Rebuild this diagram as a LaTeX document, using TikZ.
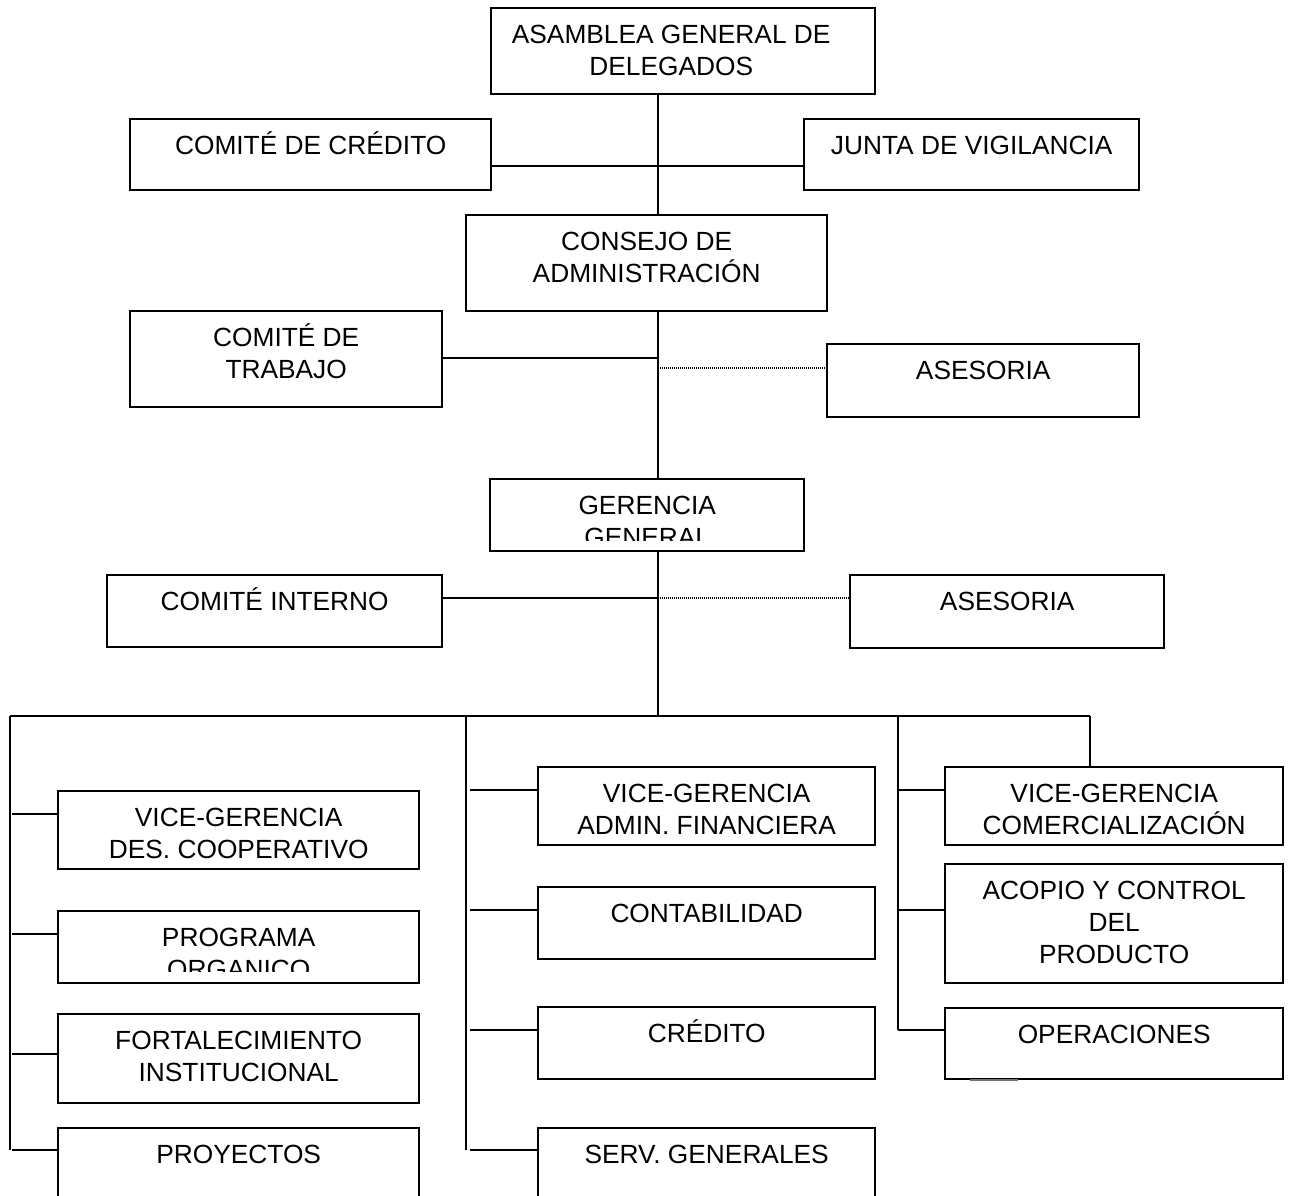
\documentclass[tikz,border=0pt]{standalone}
\usepackage{fontspec}
\setmainfont{Liberation Sans}
\begin{document}
\begin{tikzpicture}[x=1pt,y=-1pt,
  bx/.style={draw, line width=2.4pt, inner sep=0pt, fill=white},
  lbl/.style={inner sep=0pt, align=center, font=\fontsize{26.3}{32}\selectfont},
  conn/.style={line width=2.4pt},
  thinconn/.style={line width=1.8pt},
  dotconn/.style={line width=1.2pt, dash pattern=on 1pt off 1pt}]
\newcommand\orgbox[7][0]{%
  \node[bx, minimum width={#5-#3}, minimum height={#6-#4}, anchor=north west] (#2) at (#3,#4) {};
  \node[lbl, anchor=north] (#2t) at ([xshift=#1pt,yshift=-11.5pt]#2.north) {\rule{0pt}{25pt}#7};}
\newcommand\orgboxclip[7]{%
  \node[bx, minimum width={#4-#2}, minimum height={#5-#3}, anchor=north west] (#1) at (#2,#3) {};
  \begin{scope}
    \clip (#2,#3) rectangle (#4,#7);
    \node[lbl, anchor=north] (#1t) at ([yshift=-11.5pt]#1.north) {\rule{0pt}{25pt}#6};
  \end{scope}}
\useasboundingbox (0,0) rectangle (1289,1195);
\clip (0,0) rectangle (1289,1195);
\fill[white] (0,0) rectangle (1289,1195);

% helper coordinates
\coordinate (busL) at (10,716);
\coordinate (busR) at (1090,716);
\coordinate (midV) at (466,716);
\coordinate (rgtV) at (898,716);

% connectors first (boxes drawn on top)
\draw[conn] (658,93) -- (658,716);
\draw[conn] (490,166) -- (803,166);
\draw[conn] (441,358) -- (658,358);
\draw[dotconn] (658,368) -- (826,368);
\draw[conn] (441,598) -- (658,598);
\draw[dotconn] (658,598) -- (849,598);
\draw[conn] (busL) -- (busR);
\draw[conn] (busL) -- (10,1150);
\draw[thinconn] (midV) -- (466,1150);
\draw[thinconn] (rgtV) -- (898,1030);
\draw[conn] (busR) -- (1090,766);

% boxes
\orgbox[-12]{asam}{490}{7}{874}{93}{ASAMBLEA GENERAL DE\\DELEGADOS}
\orgbox{cc}{129}{118}{490}{189}{COMITÉ DE CRÉDITO}
\orgbox{jv}{803}{118}{1138}{189}{JUNTA DE VIGILANCIA}
\orgbox{cons}{465}{214}{826}{310}{CONSEJO DE\\ADMINISTRACIÓN}
\orgbox{ct}{129}{310}{441}{406}{COMITÉ DE\\TRABAJO}
\orgbox{as1}{826}{343}{1138}{416}{ASESORIA}
\orgboxclip{ger}{489}{478}{803}{550}{GERENCIA\\GENERAL}{540}
\orgbox{ci}{106}{574}{441}{646}{COMITÉ INTERNO}
\orgbox{as2}{849}{574}{1163}{647}{ASESORIA}

\orgbox{vgd}{57}{790}{418}{868}{VICE-GERENCIA\\DES. COOPERATIVO}
\orgboxclip{po}{57}{910}{418}{982}{PROGRAMA\\ORGANICO}{971}
\orgbox{fi}{57}{1013}{418}{1102}{FORTALECIMIENTO\\INSTITUCIONAL}
\orgbox{pr}{57}{1127}{418}{1220}{PROYECTOS}

\orgbox{vga}{537}{766}{874}{844}{VICE-GERENCIA\\ADMIN. FINANCIERA}
\orgbox{co}{537}{886}{874}{958}{CONTABILIDAD}
\orgbox{cr}{537}{1006}{874}{1078}{CRÉDITO}
\orgbox{sg}{537}{1127}{874}{1220}{SERV. GENERALES}

\orgbox{vgc}{944}{766}{1282}{844}{VICE-GERENCIA\\COMERCIALIZACIÓN}
\orgbox{ac}{944}{863}{1282}{982}{ACOPIO Y CONTROL\\DEL\\PRODUCTO}
\orgbox{op}{944}{1007}{1282}{1078}{OPERACIONES}

% branches
\draw[conn] (12,814) -- (vgd.west |- 0,814);
\draw[conn] (12,934) -- (po.west |- 0,934);
\draw[conn] (12,1054) -- (fi.west |- 0,1054);
\draw[conn] (12,1150) -- (pr.west |- 0,1150);
\draw[conn] (470,790) -- (vga.west |- 0,790);
\draw[conn] (470,910) -- (co.west |- 0,910);
\draw[conn] (470,1030) -- (cr.west |- 0,1030);
\draw[conn] (470,1150) -- (sg.west |- 0,1150);
\draw[conn] (898,790) -- (vgc.west |- 0,790);
\draw[conn] (898,910) -- (ac.west |- 0,910);
\draw[conn] (898,1030) -- (op.west |- 0,1030);
\draw[line width=1.5pt, black!55] (970,1080) -- (1018,1080);
\end{tikzpicture}
\end{document}
